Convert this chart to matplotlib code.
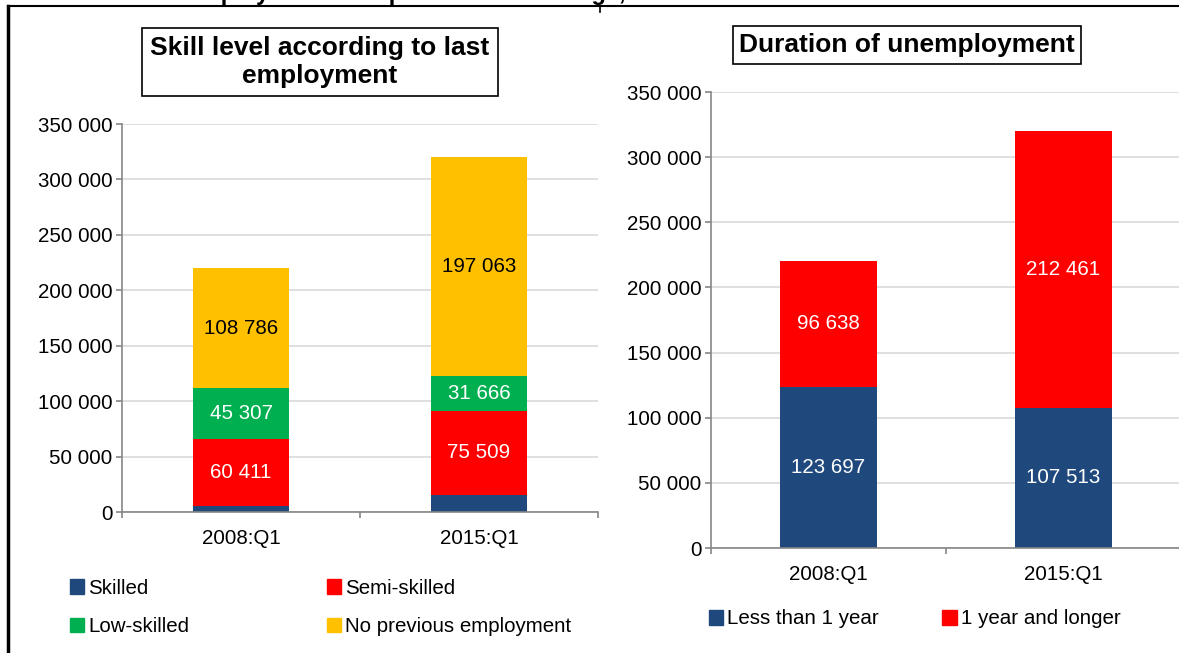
import matplotlib.pyplot as plt
from matplotlib.patches import Patch
from matplotlib.lines import Line2D
import numpy as np

plt.rcParams['font.family'] = ['Liberation Sans', 'DejaVu Sans']

quarters = ['2008:Q1', '2015:Q1']

# skill level according to last employment
skilled = [5831, 15736]
semi_skilled = [60411, 75509]
low_skilled = [45307, 31666]
no_prev = [108786, 197063]

# duration of unemployment
less_1yr = [123697, 107513]
over_1yr = [96638, 212461]

C_BLUE = '#1F497D'
C_RED = '#FF0000'
C_GREEN = '#00B050'
C_YELLOW = '#FFC000'

FS = 14.8

def fmt(v):
    return f'{v:,}'.replace(',', ' ')

def style_axes(ax, ymax):
    ax.set_xlim(-0.5, 1.5)
    ax.set_ylim(0, ymax)
    ax.set_yticks(np.arange(0, ymax + 1, 50000))
    ax.set_yticklabels([fmt(int(v)) for v in np.arange(0, ymax + 1, 50000)])
    ax.yaxis.grid(True, color='#D9D9D9', linewidth=1.2)
    ax.set_axisbelow(True)
    for s in ['top', 'right']:
        ax.spines[s].set_visible(False)
    for s in ['left', 'bottom']:
        ax.spines[s].set_color('#868686')
        ax.spines[s].set_linewidth(1.2)
    ax.set_xticks([0, 1])
    ax.set_xticklabels(quarters)
    ax.set_xticks([-0.5, 0.5, 1.5], minor=True)
    ax.tick_params(axis='x', which='major', length=0, pad=12, labelsize=FS)
    ax.tick_params(axis='x', which='minor', length=4.5, color='#868686', width=1.2, direction='out')
    ax.tick_params(axis='y', length=4, color='#868686', width=1.2, pad=3, labelsize=FS)

def stack(ax, series, colors, label_colors, width):
    x = np.arange(len(quarters))
    bottom = np.zeros(len(quarters))
    for vals, c, lc in zip(series, colors, label_colors):
        vals = np.array(vals)
        ax.bar(x, vals, width, bottom=bottom, color=c, linewidth=0)
        if lc is not None:
            for xi, b, v in zip(x, bottom, vals):
                ax.text(xi, b + v / 2, fmt(int(v)), ha='center', va='center',
                        color=lc, fontsize=FS)
        bottom = bottom + vals

fig = plt.figure(figsize=(11.79, 6.53), dpi=100)

# frame lines
fig.add_artist(Line2D([8 / 1179, 8 / 1179], [0, 1 - 6 / 653], color='black', lw=2.5,
                      transform=fig.transFigure))
fig.add_artist(Line2D([8 / 1179, 1], [1 - 6 / 653, 1 - 6 / 653], color='black', lw=1.5,
                      transform=fig.transFigure))
fig.add_artist(Line2D([600 / 1179, 600 / 1179], [1 - 6 / 653, 1 - 12 / 653], color='black', lw=1.2,
                      transform=fig.transFigure))

# heading of the page, cut off by the top edge as in the source
fig.text(155 / 1179, 1.0, 'Unemployment: composition and change, 2008–2015',
         fontsize=17, fontweight='bold', ha='left', va='baseline')

# left panel
ax1 = fig.add_axes([122 / 1179, 141 / 653, 476 / 1179, 388 / 653])
style_axes(ax1, 350000)
stack(ax1, [skilled, semi_skilled, low_skilled, no_prev],
      [C_BLUE, C_RED, C_GREEN, C_YELLOW],
      [None, 'white', 'white', 'black'], 0.40)
fig.text(320 / 1179, 1 - 62 / 653, 'Skill level according to last\nemployment',
         ha='center', va='center', fontsize=19, fontweight='bold', linespacing=1.2,
         bbox=dict(boxstyle='square,pad=0.3', fc='white', ec='black', lw=1.2))
fig.legend(handles=[Patch(color=C_BLUE, label='Skilled'),
                    Patch(color=C_GREEN, label='Low-skilled'),
                    Patch(color=C_RED, label='Semi-skilled'),
                    Patch(color=C_YELLOW, label='No previous employment')],
           ncol=2, loc='upper left', bbox_to_anchor=(51 / 1179, 1 - 560 / 653),
           frameon=False, fontsize=FS, handlelength=0.7, handleheight=0.7,
           handletextpad=0.2, columnspacing=6.7, labelspacing=0.95)

# right panel
ax2 = fig.add_axes([711 / 1179, 105 / 653, 470 / 1179, 456 / 653])
style_axes(ax2, 350000)
stack(ax2, [less_1yr, over_1yr], [C_BLUE, C_RED], ['white', 'white'], 0.41)
fig.text(907 / 1179, 1 - 45 / 653, 'Duration of unemployment',
         ha='center', va='center', fontsize=19, fontweight='bold',
         bbox=dict(boxstyle='square,pad=0.25', fc='white', ec='black', lw=1.2))
fig.legend(handles=[Patch(color=C_BLUE, label='Less than 1 year'),
                    Patch(color=C_RED, label='1 year and longer')],
           ncol=2, loc='upper left', bbox_to_anchor=(690 / 1179, 1 - 591 / 653),
           frameon=False, fontsize=FS, handlelength=0.7, handleheight=0.7,
           handletextpad=0.2, columnspacing=3.1)

fig.savefig('out.png', dpi=100)
